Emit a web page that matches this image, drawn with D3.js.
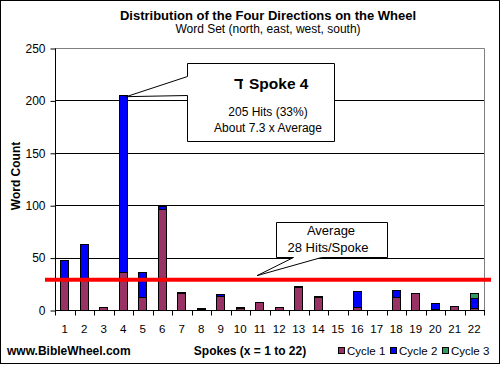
<!DOCTYPE html>
<html lang="en">
<head>
<meta charset="UTF-8">
<title>Distribution of the Four Directions on the Wheel</title>
<script src="https://d3js.org/d3.v7.min.js"></script>
<style>
  body { margin: 0; background: #fff; }
  svg { display: block; font-family: "Liberation Sans", Arial, sans-serif; }
</style>
</head>
<body>
<svg id="chart" width="501" height="367"></svg>
<script>
// data
const spokes = d3.range(1, 23).map(String);
const cycle1 = [29, 29, 3, 36, 12, 96, 16, 1, 13, 2, 8, 3, 22, 12, 0, 3, 0, 12, 16, 1, 4, 2];
const cycle2 = [19, 34, 0, 169, 24, 3, 1, 1, 2, 1, 0, 0, 1, 1, 0, 15, 0, 7, 0, 6, 0, 9];
const cycle3 = [0, 0, 0, 0, 0, 0, 0, 0, 0, 0, 0, 0, 0, 0, 0, 0, 0, 0, 0, 0, 0, 5];
const seriesNames = ["Cycle 1", "Cycle 2", "Cycle 3"];
const seriesColors = ["#993366", "#0000ff", "#339966"];
const yTicks = [0, 50, 100, 150, 200, 250];
const average = 28;

const svg = d3.select("#chart");
const plotL = 55, plotR = 484, plotT = 48, plotB = 310;

// frame round the whole picture
svg.append("rect")
    .attr("x", 0.5).attr("y", 0.5).attr("width", 499).attr("height", 363)
    .attr("fill", "#fff").attr("stroke", "#000");

const x = d3.scaleBand().domain(spokes).range([plotL, plotR]).padding(0);
const y = d3.scaleLinear().domain([0, 250]).range([plotB, plotT]);

// gridlines
svg.append("g").selectAll("line")
    .data(yTicks.filter(t => t > 0 && t < 250))
    .join("line")
    .attr("x1", plotL).attr("x2", plotR)
    .attr("y1", d => Math.round(y(d)) + 0.5).attr("y2", d => Math.round(y(d)) + 0.5)
    .attr("stroke", "#000");

// gray plot frame top and right
svg.append("path")
    .attr("d", `M${plotL},${plotT + 0.5}H${plotR + 0.5}V${plotB}`)
    .attr("fill", "none").attr("stroke", "#808080");

// y axis
const yAxis = svg.append("g")
    .attr("transform", `translate(${plotL + 0.5},0.5)`)
    .call(d3.axisLeft(y).tickValues(yTicks).tickSize(5).tickPadding(5));
yAxis.select(".domain").attr("d", `M0,${plotT}V${plotB}`);
yAxis.selectAll("text").attr("font-size", 12).attr("font-family", "Liberation Sans, Arial").attr("fill", "#000");

// x axis with ticks between spokes
const xAxis = svg.append("g").attr("transform", `translate(0,${plotB + 0.5})`);
xAxis.append("line").attr("x1", plotL).attr("x2", plotR + 1).attr("stroke", "#000");
xAxis.selectAll("line.tick")
    .data(spokes.concat(["end"]))
    .join("line").attr("class", "tick")
    .attr("x1", (d, i) => Math.round(plotL + i * x.step()) + 0.5)
    .attr("x2", (d, i) => Math.round(plotL + i * x.step()) + 0.5)
    .attr("y1", 0).attr("y2", 5).attr("stroke", "#000");
xAxis.selectAll("text")
    .data(spokes)
    .join("text")
    .attr("x", d => x(d) + x.bandwidth() / 2)
    .attr("y", 22)
    .attr("text-anchor", "middle")
    .attr("font-size", 11.5)
    .text(d => d);

// stacked bars
const rows = spokes.map((s, i) => ({ spoke: s, c1: cycle1[i], c2: cycle2[i], c3: cycle3[i] }));
const stack = d3.stack().keys(["c1", "c2", "c3"])(rows);
const barW = 9;
svg.append("g").selectAll("g")
    .data(stack)
    .join("g")
    .attr("fill", (d, i) => seriesColors[i])
    .selectAll("rect")
    .data(d => d.filter(v => v[1] - v[0] > 0))
    .join("rect")
    .attr("x", d => Math.round(x(d.data.spoke) + (x.bandwidth() - barW) / 2) + 0.5)
    .attr("y", d => Math.round(y(d[1])) + 0.5)
    .attr("width", barW - 1)
    .attr("height", d => Math.round(y(d[0])) - Math.round(y(d[1])))
    .attr("stroke", "#000");

// average line
svg.append("line")
    .attr("x1", 45).attr("x2", 491)
    .attr("y1", y(average) - 1).attr("y2", y(average) - 1)
    .attr("stroke", "#ff0000").attr("stroke-width", 4);

// callout for spoke 4
const tip4 = [x("4") + x.bandwidth() / 2 + 3, y(205) + 1.5];
svg.append("path")
    .attr("d", `M187.5,63.5H334.5V141.5H187.5V95.5L${tip4[0]},${tip4[1]}L187.5,76.5Z`)
    .attr("fill", "#fff").attr("stroke", "#000");
const c1 = svg.append("g");
// Hebrew letter and the heading as two texts, so bidi cannot move them
c1.append("text").attr("x", 234).attr("y", 89)
    .attr("font-size", 16).attr("font-weight", "bold")
    .text("ד");
c1.append("text").attr("x", 249).attr("y", 89)
    .attr("font-size", 15.5).attr("font-weight", "bold")
    .text("Spoke 4");
c1.append("text").attr("x", 268).attr("y", 116).attr("text-anchor", "middle")
    .attr("font-size", 12).text("205 Hits (33%)");
c1.append("text").attr("x", 268).attr("y", 132).attr("text-anchor", "middle")
    .attr("font-size", 12).text("About 7.3 x Average");

// callout for the average
svg.append("path")
    .attr("d", `M276.5,222.5H387.5V257.5H321.5L257,${y(average) - 5}L293.5,257.5H276.5Z`)
    .attr("fill", "#fff").attr("stroke", "#000");
const c2 = svg.append("g").attr("text-anchor", "middle").attr("font-size", 13);
c2.append("text").attr("x", 331).attr("y", 235).text("Average");
c2.append("text").attr("x", 328).attr("y", 252).text("28 Hits/Spoke");

// titles
svg.append("text").attr("x", 268).attr("y", 20).attr("text-anchor", "middle")
    .attr("font-size", 13).attr("font-weight", "bold")
    .text("Distribution of the Four Directions on the Wheel");
svg.append("text").attr("x", 268).attr("y", 33).attr("text-anchor", "middle")
    .attr("font-size", 12)
    .text("Word Set (north, east, west, south)");
svg.append("text")
    .attr("transform", "translate(20,176) rotate(-90)")
    .attr("text-anchor", "middle")
    .attr("font-size", 12).attr("font-weight", "bold")
    .text("Word Count");
svg.append("text").attr("x", 250).attr("y", 355).attr("text-anchor", "middle")
    .attr("font-size", 12).attr("font-weight", "bold")
    .text("Spokes (x = 1 to 22)");
svg.append("text").attr("x", 7).attr("y", 355)
    .attr("font-size", 12).attr("font-weight", "bold")
    .text("www.BibleWheel.com");

// legend
const legend = svg.append("g").selectAll("g")
    .data(seriesNames)
    .join("g")
    .attr("transform", (d, i) => `translate(${338 + i * 52},0)`);
legend.append("rect")
    .attr("x", 0.5).attr("y", 347.5).attr("width", 6).attr("height", 6)
    .attr("fill", (d, i) => seriesColors[i]).attr("stroke", "#000");
legend.append("text")
    .attr("x", 9).attr("y", 355).attr("font-size", 11.5)
    .text(d => d);
</script>
</body>
</html>
